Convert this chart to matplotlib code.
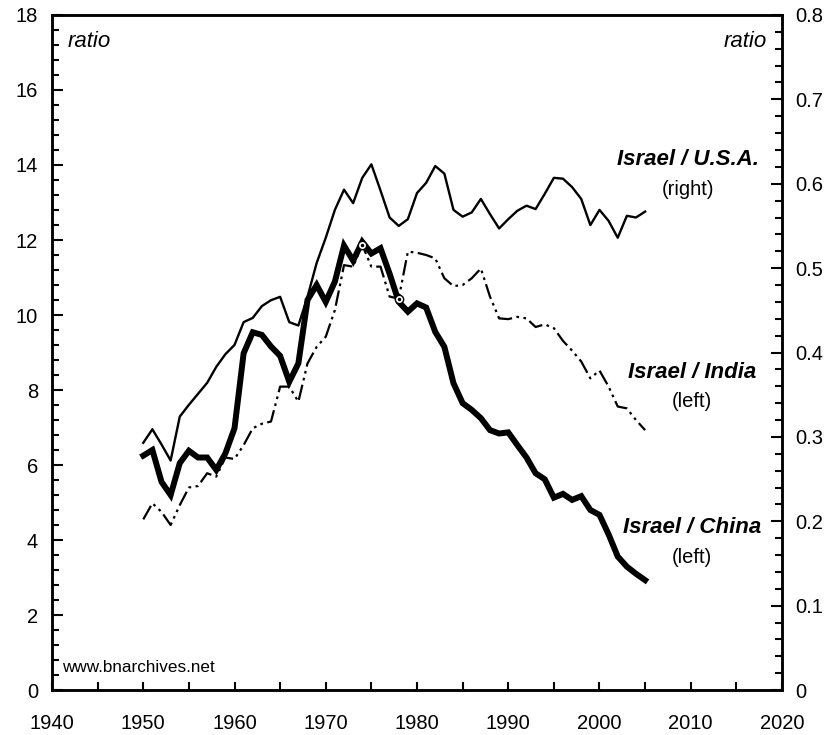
import numpy as np
from matplotlib import pyplot as plt
from matplotlib.ticker import MultipleLocator

plt.rcParams['font.family'] = ['Liberation Sans', 'DejaVu Sans']

years = np.arange(1950, 2006)

# Israel / China (left axis)
china = [6.25, 6.4, 5.55, 5.2, 6.05, 6.38, 6.2, 6.2, 5.87, 6.31,
         6.98, 8.98, 9.54, 9.47, 9.16, 8.91, 8.22, 8.71, 10.4, 10.8,
         10.35, 10.89, 11.85, 11.45, 11.95, 11.64, 11.78, 11.1, 10.35, 10.09,
         10.31, 10.2, 9.55, 9.15, 8.18, 7.65, 7.47, 7.25, 6.93, 6.84,
         6.87, 6.53, 6.2, 5.78, 5.62, 5.13, 5.23, 5.07, 5.17, 4.8,
         4.67, 4.15, 3.56, 3.29, 3.1, 2.93]

# Israel / India (left axis)
india = [4.55, 4.98, 4.75, 4.4, 4.93, 5.4, 5.44, 5.78, 5.69, 6.2,
         6.16, 6.53, 6.98, 7.1, 7.16, 8.09, 8.09, 7.69, 8.71, 9.15,
         9.42, 10.13, 11.33, 11.29, 11.87, 11.29, 11.29, 10.49, 10.44, 11.69,
         11.66, 11.6, 11.51, 10.98, 10.77, 10.8, 10.98, 11.24, 10.49, 9.91,
         9.89, 9.95, 9.91, 9.68, 9.75, 9.65, 9.31, 9.05, 8.76, 8.31,
         8.52, 8.09, 7.56, 7.51, 7.2, 6.93]

# Israel / U.S.A. (right axis)
usa = [0.293, 0.309, 0.291, 0.272, 0.324, 0.338, 0.351, 0.364, 0.383, 0.398,
       0.409, 0.436, 0.441, 0.455, 0.462, 0.466, 0.436, 0.432, 0.466, 0.506,
       0.536, 0.569, 0.593, 0.577, 0.607, 0.623, 0.592, 0.560, 0.550, 0.558,
       0.589, 0.601, 0.621, 0.612, 0.569, 0.561, 0.566, 0.582, 0.564, 0.547,
       0.558, 0.568, 0.574, 0.570, 0.588, 0.607, 0.606, 0.596, 0.582, 0.551,
       0.569, 0.556, 0.536, 0.562, 0.560, 0.567]

# spots where the India line crosses the China line (1974, 1978)
cross_idx = [24, 28]

fig = plt.figure(figsize=(8.31, 7.35), dpi=100)
ax = fig.add_axes([0.0626, 0.0612, 0.8784, 0.9184])
ax2 = ax.twinx()

ax.plot(years, china, color='black', linewidth=4.3, solid_joinstyle='miter', zorder=2)
ax.plot(years, india, color='black', linewidth=1.6, dashes=(7, 2, 1.2, 2, 1.2, 2), zorder=3)
ax.plot(years[cross_idx], np.array(india)[cross_idx], linestyle='none', marker='o', ms=6,
        mfc='white', mec='black', mew=1.0, zorder=4)
ax.plot(years[cross_idx], np.array(india)[cross_idx], linestyle='none', marker='o', ms=1.5,
        mfc='black', mec='black', zorder=5)
ax2.plot(years, usa, color='black', linewidth=1.7)

ax.set_xlim(1940, 2020)
ax.set_ylim(0, 18)
ax2.set_ylim(0, 0.8)

ax.xaxis.set_major_locator(MultipleLocator(10))
ax.xaxis.set_minor_locator(MultipleLocator(5))
ax.yaxis.set_major_locator(MultipleLocator(2))
ax.yaxis.set_minor_locator(MultipleLocator(0.4))
ax2.yaxis.set_minor_locator(MultipleLocator(0.02))
ax2.set_yticks(np.arange(0, 0.81, 0.1))
ax2.set_yticklabels(['0'] + [f'{v:.1f}' for v in np.arange(0.1, 0.81, 0.1)])

ax.tick_params(axis='x', which='both', direction='in', length=6, width=1.5, labelsize=14.5, pad=17)
ax.tick_params(axis='y', which='major', direction='in', length=8, width=1.5, labelsize=14.5, pad=10)
ax.tick_params(axis='y', which='minor', direction='in', length=5, width=1.5)
ax2.tick_params(axis='y', which='major', direction='in', length=8, width=1.5, labelsize=14.5, pad=9.5)
ax2.tick_params(axis='y', which='minor', direction='in', length=5, width=1.5)

for a in (ax, ax2):
    for s in a.spines.values():
        s.set_linewidth(1.8)

ax.text(0.022, 0.96, 'ratio', transform=ax.transAxes, fontsize=16, style='italic', va='center', ha='left')
ax.text(0.979, 0.96, 'ratio', transform=ax.transAxes, fontsize=16, style='italic', va='center', ha='right')

ax.text(0.871, 0.786, 'Israel / U.S.A.', transform=ax.transAxes, fontsize=16, style='italic',
        weight='bold', ha='center', va='center')
ax.text(0.871, 0.741, '(right)', transform=ax.transAxes, fontsize=14.5, ha='center', va='center')
ax.text(0.877, 0.471, 'Israel / India', transform=ax.transAxes, fontsize=16, style='italic',
        weight='bold', ha='center', va='center')
ax.text(0.877, 0.427, '(left)', transform=ax.transAxes, fontsize=14.5, ha='center', va='center')
ax.text(0.877, 0.241, 'Israel / China', transform=ax.transAxes, fontsize=16, style='italic',
        weight='bold', ha='center', va='center')
ax.text(0.877, 0.197, '(left)', transform=ax.transAxes, fontsize=14.5, ha='center', va='center')

ax.text(0.014, 0.034, 'www.bnarchives.net', transform=ax.transAxes, fontsize=12.3, ha='left', va='center')

fig.savefig('out.png', dpi=100)
